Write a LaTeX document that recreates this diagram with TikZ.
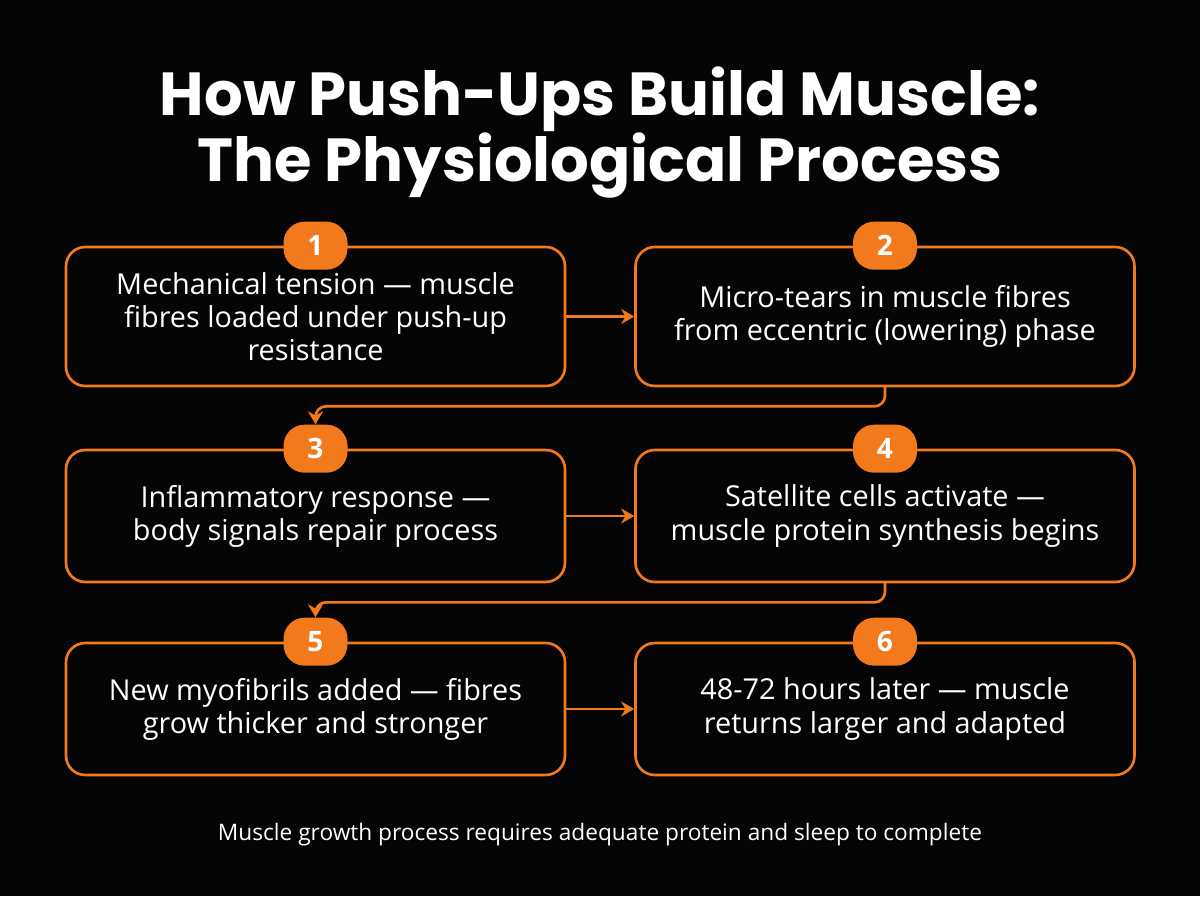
\documentclass[tikz,border=0pt]{standalone}
\usepackage{fontspec}
\setmainfont{Open Sans}
\newfontfamily\titlefont{Poppins}
\usetikzlibrary{arrows.meta,positioning,backgrounds}
\definecolor{pushorange}{HTML}{F2791C}
\definecolor{pushbg}{HTML}{050505}
\tikzset{
  every picture/.append style={line cap=round,line join=round},
  push step/.style={draw=pushorange,line width=1.5pt,rounded corners=11pt,minimum width=9.98cm,
    align=center,text=white,font=\fontsize{16.4}{18.8}\selectfont},
  push badge/.style={fill=pushorange,rounded corners=12pt,minimum width=1.28cm,minimum height=0.96cm,
    text=white,font=\fontsize{16}{18}\selectfont\bfseries},
  push arrow/.style={pushorange,line width=1.5pt,-{Stealth[length=2.6mm,width=3mm]}},
  push title/.style={text=white,align=center,font=\titlefont\fontsize{34.6}{38}\selectfont\bfseries},
  push note/.style={text=white,font=\fontsize{12.9}{15}\selectfont}
}
\begin{document}
\begin{tikzpicture}
  \fill[pushbg] (0,0) rectangle (24,17.92);
  \useasboundingbox (0,0) rectangle (24,17.92);
  \node[push title] (title) at (12,15.27) {How Push-Ups Build Muscle:\\The Physiological Process};
  % steps
  \node[push step,minimum height=2.78cm] (s1) at (6.31,11.59) {Mechanical tension --- muscle\\fibres loaded under push-up\\resistance};
  \node[push step,minimum height=2.78cm] (s2) at (17.7,11.59) {Micro-tears in muscle fibres\\from eccentric (lowering) phase};
  \node[push step,minimum height=2.64cm] (s3) at (6.31,7.6) {Inflammatory response ---\\body signals repair process};
  \node[push step,minimum height=2.64cm] (s4) at (17.7,7.6) {Satellite cells activate ---\\muscle protein synthesis begins};
  \node[push step,minimum height=2.64cm] (s5) at (6.31,3.74) {New myofibrils added --- fibres\\grow thicker and stronger};
  \node[push step,minimum height=2.64cm] (s6) at (17.7,3.74) {48-72 hours later --- muscle\\returns larger and adapted};
  \foreach \i in {1,...,6}
    \node[push badge] (b\i) at (s\i.north) {\i};
  % connectors
  \draw[push arrow] (s1.east) -- (s2.west);
  \draw[push arrow] (s3.east) -- (s4.west);
  \draw[push arrow] (s5.east) -- (s6.west);
  \draw[push arrow,rounded corners=6pt] (s2.south) -- ++(0,-0.38) -| (b3.north);
  \draw[push arrow,rounded corners=6pt] (s4.south) -- ++(0,-0.38) -| (b5.north);
  \node[push note] (note) at (12,1.22) {Muscle growth process requires adequate protein and sleep to complete};
\end{tikzpicture}
\end{document}
